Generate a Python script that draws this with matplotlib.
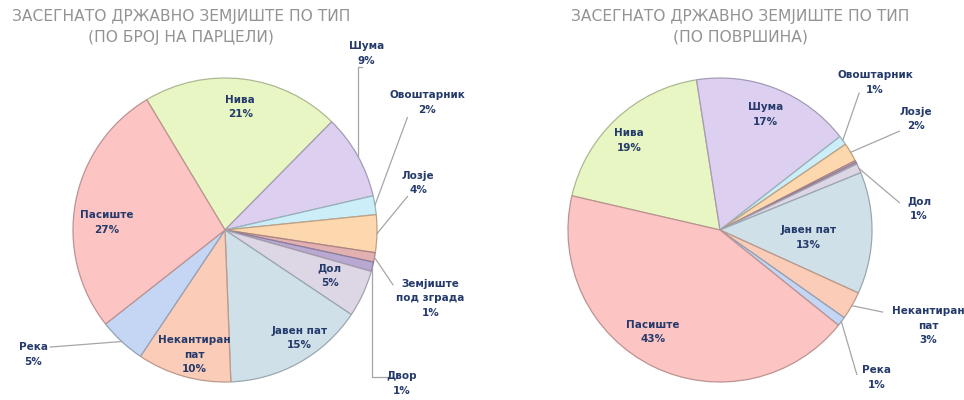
import matplotlib.pyplot as plt
import matplotlib.colors as mcolors
import numpy as np

plt.rcParams['font.family'] = ['DejaVu Sans']

# ---- data ----
categories = ["Нива", "Шума", "Овоштарник", "Лозје", "Земјиште\nпод зграда", "Двор",
              "Дол", "Јавен пат", "Некантиран\nпат", "Река", "Пасиште"]
parcels_pct = [21, 9, 2, 4, 1, 1, 5, 15, 10, 5, 27]
area_pct = [19, 17, 1, 2, 0.2, 0.2, 1, 13, 3, 1, 43]
area_shown = [True, True, True, True, False, False, True, True, True, True, True]

title_left = "ЗАСЕГНАТО ДРЖАВНО ЗЕМЈИШТЕ ПО ТИП\n(ПО БРОЈ НА ПАРЦЕЛИ)"
title_right = "ЗАСЕГНАТО ДРЖАВНО ЗЕМЈИШТЕ ПО ТИП\n(ПО ПОВРШИНА)"

# ---- style ----
slice_colors = ['#e7f6c2', '#dccff0', '#cbeef8', '#fdd7ad', '#e2b0b0', '#b8a8d2',
                '#ddd6e5', '#cfe0e9', '#fbccb7', '#c4d6f4', '#fcc4c3']
label_color = '#243a6b'
title_color = '#939393'
leader_color = '#a6a6a6'

# label positions in pie units (radius = 1); None = no label
left_pos = [(0.10, 0.81), (0.93, 1.16), (1.33, 0.84), (1.27, 0.31), (1.35, -0.45),
            (1.16, -1.01), (0.69, -0.30), (0.49, -0.71), (-0.20, -0.82),
            (-1.26, -0.82), (-0.78, 0.05)]
# leader start (near label) and whether it has an elbow
left_leaders = {1: ((0.90, 1.07), True), 2: ((1.20, 0.74), False),
                3: ((1.20, 0.22), False), 4: ((1.105, -0.36), False),
                5: ((1.10, -0.97), True), 9: ((-1.15, -0.77), False)}

right_pos = [(-0.60, 0.59), (0.30, 0.76), (1.02, 0.97), (1.29, 0.73), None, None,
             (1.31, 0.14), (0.58, -0.05), (1.37, -0.63), (1.03, -0.97), (-0.44, -0.67)]
right_leaders = {2: ((0.915, 0.90), False), 3: ((1.18, 0.65), False),
                 6: ((1.18, 0.18), False), 8: ((1.07, -0.54), False),
                 9: ((0.90, -0.95), False)}


def _edge(c):
    r, g, b = mcolors.to_rgb(c)
    return (r * 0.75, g * 0.75, b * 0.75)


def draw_pie(rect, values, shown, startangle, positions, leaders, title, title_x):
    fig = plt.gcf()
    ax = fig.add_axes(rect)
    wedges, _ = ax.pie(values, colors=slice_colors, startangle=startangle,
                       counterclock=False, radius=1.0,
                       wedgeprops=dict(linewidth=0.9))
    for w, c in zip(wedges, slice_colors):
        w.set_edgecolor(_edge(c))
    ax.set_xlim(-1, 1)
    ax.set_ylim(-1, 1)
    ax.set_aspect('equal')
    ax.axis('off')

    for i, w in enumerate(wedges):
        if positions[i] is None or not shown[i]:
            continue
        x, y = positions[i]
        txt = f"{categories[i]}\n{values[i]:.0f}%"
        ax.text(x, y, txt, ha='center', va='center', fontsize=7.5,
                fontweight='bold', color=label_color, linespacing=1.55,
                clip_on=False)
        if i in leaders:
            (sx, sy), elbow = leaders[i]
            mid = np.deg2rad((w.theta1 + w.theta2) / 2)
            ex, ey = np.cos(mid), np.sin(mid)
            if elbow:
                xs, ys = [sx, ex, ex], [sy, sy, ey]
            else:
                xs, ys = [sx, ex], [sy, ey]
            ax.plot(xs, ys, color=leader_color, lw=0.9, clip_on=False)

    fig.text(title_x, 1 - 27 / 400, title, ha='center', va='center',
             fontsize=11.2, color=title_color, linespacing=1.45)


W, H = 964, 400
fig = plt.figure(figsize=(W / 100, H / 100), dpi=100)
fig.patch.set_facecolor('white')

R = 152
draw_pie([(225 - R) / W, (H - 230 - R) / H, 2 * R / W, 2 * R / H],
         parcels_pct, [True] * len(categories), 121, left_pos, left_leaders,
         title_left, 181 / W)
draw_pie([(720 - R) / W, (H - 230 - R) / H, 2 * R / W, 2 * R / H],
         area_pct, area_shown, 167, right_pos, right_leaders,
         title_right, 740 / W)

fig.savefig('out.png', dpi=100, facecolor='white')
